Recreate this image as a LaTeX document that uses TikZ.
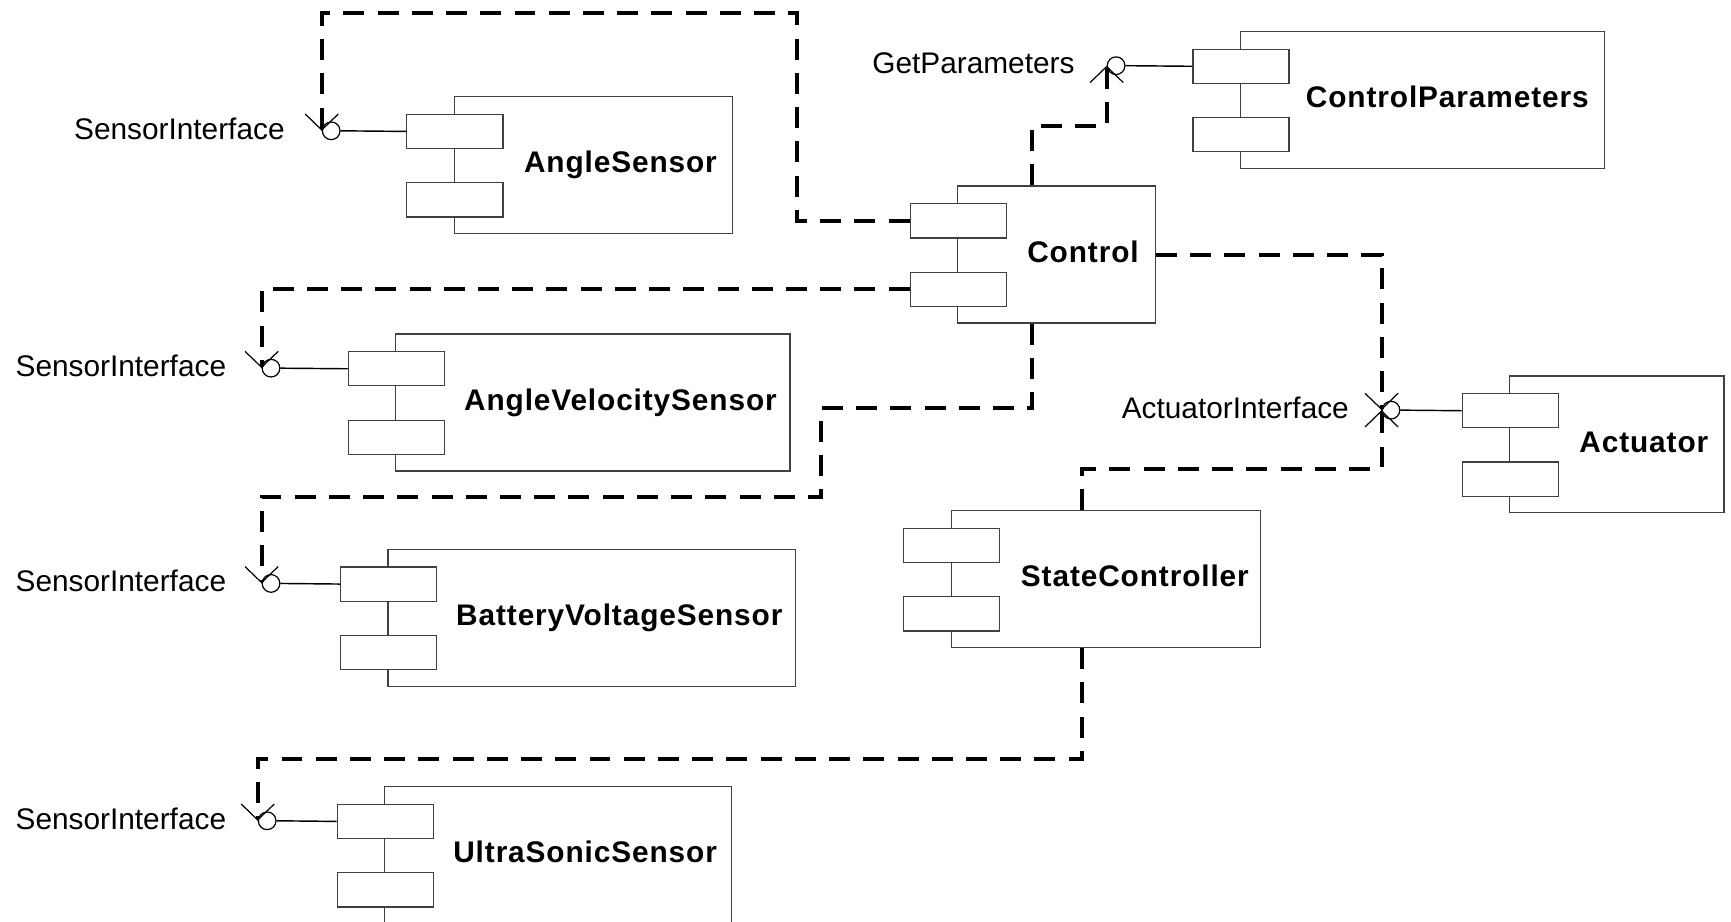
\documentclass[tikz,border=0pt]{standalone}
\usepackage{fontspec}
\setmainfont{Liberation Sans}
\newfontfamily\namefamily[LetterSpace=3]{Liberation Sans}
\usetikzlibrary{arrows.meta,calc}
\tikzset{
 cbox/.style={draw=black!75, line width=1.1pt, rectangle, inner sep=0pt, minimum height=124pt, anchor=north west},
 crect/.style={draw=black!75, line width=1.1pt, fill=white, rectangle, inner sep=0pt, minimum width=87pt, minimum height=31pt, anchor=north west},
 lolly/.style={draw=black, line width=1.1pt, circle, inner sep=0pt, minimum size=16pt},
 lbl/.style={inner sep=0pt, font=\fontsize{27}{32}\selectfont, anchor=base east},
 cname/.style={inner sep=0pt, font=\namefamily\bfseries\fontsize{27}{32}\selectfont, anchor=base},
 dep/.style={line width=3.6pt, dash pattern=on 19pt off 12pt, -{Straight Barb[length=14.5pt,width=30pt,line width=1.1pt]}},
 link/.style={line width=1.3pt},
}
\newcommand\umlcomp[6]{%
 \node[cbox, minimum width=#4pt] (#1) at (#2,#3) {};
 \node[crect] (#1a) at ($(#1.north west)+(-43,16)$) {};
 \node[crect] (#1b) at ($(#1.north west)+(-43,78)$) {};
 \node[cname] (#1n) at (#6,{#3+69.5}) {#5};
}
\newcommand\umllolly[5]{%
 \node[lolly] (#1) at (#2,#3) {};
 \node[lbl] (#1l) at (#5,{#3+7.5}) {#4};
}
\begin{document}
\begin{tikzpicture}[x=1pt,y=-1pt]
\useasboundingbox (0,0) rectangle (1568,835);
\clip (0,0) rectangle (1568,835);
% components
\umlcomp{AS}{411}{87}{252}{AngleSensor}{562}
\umlcomp{C}{867}{168}{179}{Control}{981}
\umlcomp{CP}{1123}{28}{330}{ControlParameters}{1311}
\umlcomp{AVS}{358}{302}{357}{AngleVelocitySensor}{562}
\umlcomp{BVS}{351}{497}{369}{BatteryVoltageSensor}{561}
\umlcomp{SC}{861}{462}{280}{StateController}{1028}
\umlcomp{Act}{1367}{340}{194}{Actuator}{1489}
\umlcomp{US}{348}{712}{314}{UltraSonicSensor}{530}
% provided interfaces
\umllolly{ASi}{300}{118.5}{SensorInterface}{258}
\umllolly{AVSi}{245.5}{333.5}{SensorInterface}{205}
\umllolly{BVSi}{245.5}{528.5}{SensorInterface}{205}
\umllolly{USi}{242}{743.5}{SensorInterface}{205}
\umllolly{GPi}{1011}{59.5}{GetParameters}{973.5}
\umllolly{AIi}{1260}{371.5}{ActuatorInterface}{1222}
\draw[link] (ASi.east) -- (ASa.west);
\draw[link] (AVSi.east) -- (AVSa.west);
\draw[link] (BVSi.east) -- (BVSa.west);
\draw[link] (USi.east) -- (USa.west);
\draw[link] (GPi.east) -- (CPa.west);
\draw[link] (AIi.east) -- (Acta.west);
% dependencies
\draw[dep] (Ca.west) -| (722,12) -| (ASi.west);
\draw[dep] (Cb.west) -| (AVSi.west);
\draw[dep] ([xshift=68pt]C.south west) -- ++(0,76.5) -| (744,450) -| (BVSi.west);
\draw[dep] ([xshift=68pt]C.north west) -- ++(0,-54) -| (GPi.west);
\draw[dep] (C.east) -| (AIi.west);
\draw[dep] ([xshift=119pt]SC.north west) -- ++(0,-37) -| (AIi.west);
\draw[dep] ([xshift=119pt]SC.south west) -- ++(0,100) -| (USi.west);
\end{tikzpicture}
\end{document}
